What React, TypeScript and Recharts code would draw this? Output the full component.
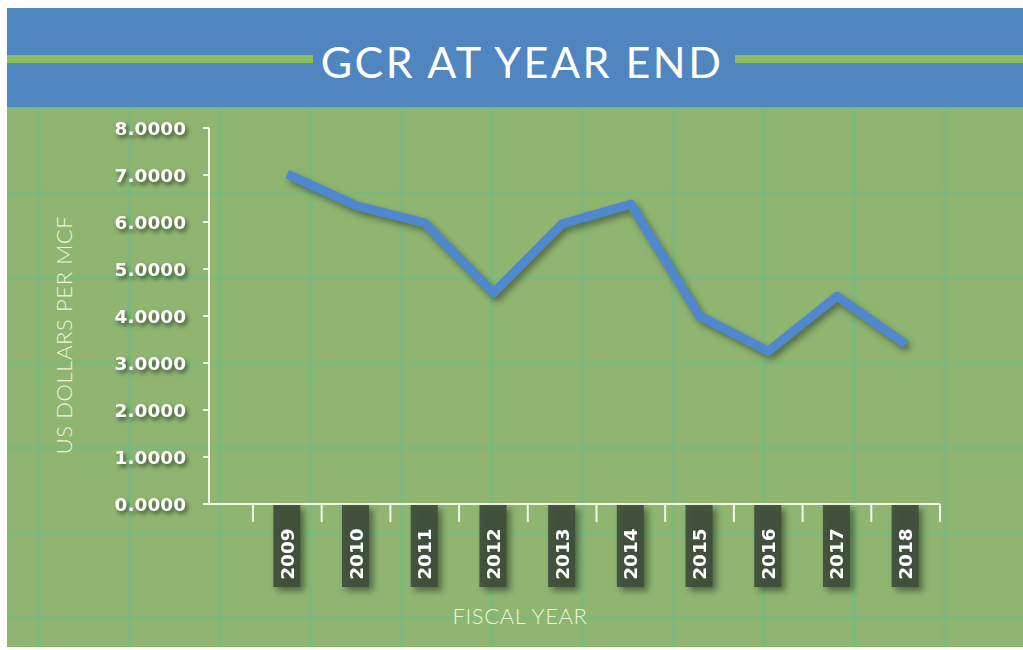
import React from 'react';
import { LineChart, Line, XAxis, YAxis, Label } from 'recharts';

const YEARS = ['2009', '2010', '2011', '2012', '2013', '2014', '2015', '2016', '2017', '2018'];
const GCR = [7.02, 6.35, 5.98, 4.49, 5.96, 6.38, 4.0, 3.25, 4.42, 3.4];
const Y_TICKS = [0, 1, 2, 3, 4, 5, 6, 7, 8];
// year positions and the tick marks between them
const X_TICKS = [-0.5, 0, 0.5, 1, 1.5, 2, 2.5, 3, 3.5, 4, 4.5, 5, 5.5, 6, 6.5, 7, 7.5, 8, 8.5, 9, 9.5];

const data = YEARS.map((year, i) => ({ year, pos: i, value: GCR[i] }));

const LABEL_FONT = '"DejaVu Sans", Arial, sans-serif';
const SHADOW = 'drop-shadow(2px 3px 2px rgba(0,0,0,0.55))';
const AXIS_WHITE = '#f4f7e6';

const YTick = (props: any) => {
  const { x, y, payload } = props;
  return (
    <text
      x={x}
      y={y}
      textAnchor="end"
      dominantBaseline="central"
      fill="#ffffff"
      fontSize={18.5}
      fontWeight="bold"
      fontFamily={LABEL_FONT}
      style={{ filter: SHADOW }}
    >
      {Number(payload.value).toFixed(4)}
    </text>
  );
};

const XTick = (props: any) => {
  const { x, y, payload } = props;
  const v = Number(payload.value);
  if (!Number.isInteger(v)) {
    return <line x1={x} x2={x} y1={y} y2={y + 18} stroke={AXIS_WHITE} strokeWidth={2} />;
  }
  return (
    <g style={{ filter: 'drop-shadow(4px 4px 3px rgba(0,0,0,0.45))' }}>
      <rect x={x - 14} y={y + 1} width={27} height={82} fill="#3e4d3b" fillOpacity={0.92} />
      <text
        x={x}
        y={y + 50}
        transform={`rotate(-90 ${x} ${y + 50})`}
        textAnchor="middle"
        dominantBaseline="central"
        fill="#ffffff"
        fontSize={18.5}
        fontWeight="bold"
        fontFamily={LABEL_FONT}
      >
        {YEARS[v]}
      </text>
    </g>
  );
};

const App: React.FC = () => {
  return (
    <div style={{ position: 'absolute', left: 0, top: 0, width: 1023, height: 650, background: '#ffffff', overflow: 'hidden' }}>
      {/* green gridded backdrop */}
      <div
        style={{
          position: 'absolute',
          left: 7,
          top: 107,
          right: 0,
          bottom: 3,
          backgroundColor: '#8fb571',
          backgroundImage:
            'linear-gradient(90deg, rgba(112,188,128,0.6) 4px, transparent 4px), linear-gradient(180deg, rgba(112,188,128,0.5) 4px, transparent 4px)',
          backgroundSize: '90.6px 100%, 100% 85px',
          backgroundPosition: '30px 0, 0 84px',
        }}
      />
      {/* title band */}
      <div style={{ position: 'absolute', left: 7, top: 8, right: 0, height: 99, background: '#5086c0' }}>
        <div style={{ position: 'absolute', left: 0, width: 306, top: 47, height: 8, background: '#8dbd5e' }} />
        <div style={{ position: 'absolute', left: 728, right: 0, top: 47, height: 8, background: '#8dbd5e' }} />
        <div
          style={{
            position: 'absolute',
            left: 310,
            width: 410,
            top: 25,
            textAlign: 'center',
            color: '#ffffff',
            fontFamily: 'Lato, "Open Sans", sans-serif',
            fontSize: 43,
            fontWeight: 400,
            letterSpacing: 2.5,
            lineHeight: '58px',
            whiteSpace: 'nowrap',
          }}
        >
          GCR AT YEAR END
        </div>
      </div>

      <div style={{ position: 'absolute', left: 0, top: 0 }}>
        <LineChart width={1023} height={650} data={data} margin={{ top: 128, right: 83, bottom: 0, left: 0 }}>
          <XAxis
            dataKey="pos"
            type="number"
            domain={[-1.14, 9.5]}
            allowDataOverflow
            ticks={X_TICKS}
            interval={0}
            height={146}
            tickSize={0}
            tickMargin={0}
            tickLine={false}
            tick={<XTick />}
            axisLine={{ stroke: AXIS_WHITE, strokeWidth: 2 }}
          >
            <Label
              content={() => (
                <text
                  x={520}
                  y={615}
                  textAnchor="middle"
                  dominantBaseline="central"
                  fill="#eef4d8"
                  fontSize={22}
                  fontWeight={300}
                  letterSpacing={0.6}
                  fontFamily="Lato, sans-serif"
                >
                  FISCAL YEAR
                </text>
              )}
            />
          </XAxis>
          <YAxis
            domain={[0, 8]}
            ticks={Y_TICKS}
            width={209}
            tickSize={6}
            tickMargin={17}
            tick={<YTick />}
            tickLine={{ stroke: AXIS_WHITE, strokeWidth: 2 }}
            axisLine={{ stroke: AXIS_WHITE, strokeWidth: 2 }}
          >
            <Label
              content={(p: any) => {
                const vb = p.viewBox || { y: 128, height: 376 };
                const cy = vb.y + vb.height / 2 + 19;
                return (
                  <text
                    x={63}
                    y={cy}
                    transform={`rotate(-90 63 ${cy})`}
                    textAnchor="middle"
                    dominantBaseline="central"
                    fill="#eef4d8"
                    fontSize={22}
                    fontWeight={300}
                    letterSpacing={0.6}
                    fontFamily="Lato, sans-serif"
                  >
                    US DOLLARS PER MCF
                  </text>
                );
              }}
            />
          </YAxis>
          <Line
            dataKey="value"
            type="linear"
            stroke="#4f88cf"
            strokeWidth={9}
            dot={false}
            activeDot={false}
            strokeLinejoin="round"
            isAnimationActive={false}
            style={{ filter: 'drop-shadow(3px 4px 3px rgba(0,0,0,0.4))' }}
          />
        </LineChart>
      </div>
    </div>
  );
};

export default App;
